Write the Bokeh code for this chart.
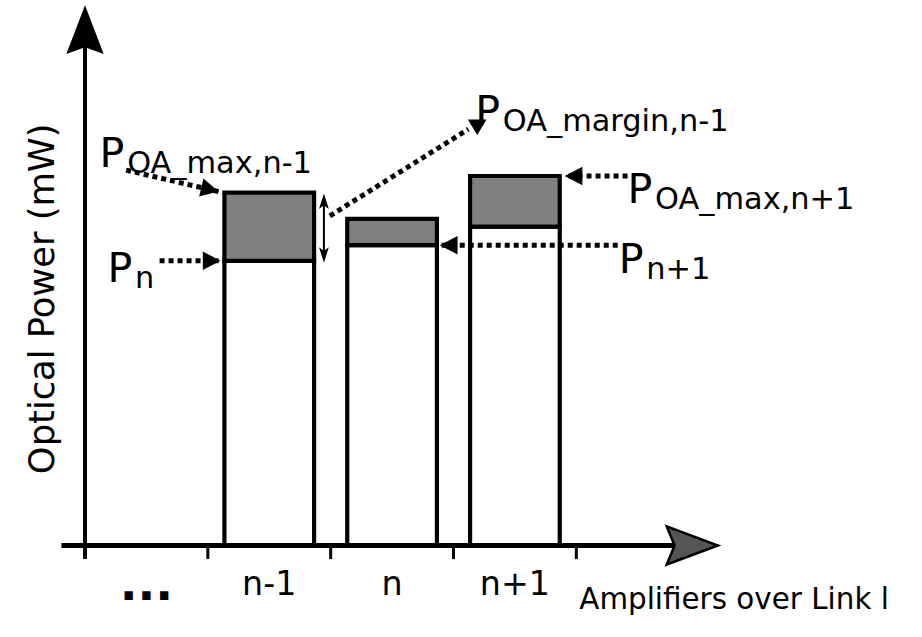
import math
from bokeh.plotting import figure
from bokeh.models import Range1d
from bokeh.core.properties import value
from bokeh.embed import file_html
from bokeh.resources import INLINE

# ---------------- data ----------------
slot_labels = ["n-1", "n", "n+1"]
slot_label_pos = [1.5, 2.5, 3.5]
ellipsis_label = ["..."]
ellipsis_pos = [0.5]
tick_positions = [0, 1, 2, 3, 4]
bar_names = ["n-1", "n", "n+1"]
bar_centers = [1.5, 2.5, 3.5]
power_in = [29.2, 30.8, 32.7]      # P_n (input power to amplifier)
power_max = [36.2, 33.5, 37.9]     # P_OA_max (maximum amplifier power)
bar_width = 0.73

x_title = "Amplifiers over Link l"
y_title = "Optical Power (mW)"

# ---------------- geometry helpers (layout px <-> data) ----------------
XS, YS = 125.0, 10.0      # layout px per slot, layout px per mW
OX, OY = 86.0, 559.0      # layout position of the origin
LW, LH = 922.0, 637.0     # layout extent
W, H = 906, 621           # canvas size
FS = 0.98                 # font scale (canvas / layout)
FONT = value("DejaVu Sans")


def X(px):
    return (px - OX) / XS


def Y(py):
    return (OY - py) / YS


def PX(x):
    return OX + x * XS


def PY(y):
    return OY - y * YS


def fs(size):
    return "%.1fpx" % (size * FS)


p = figure(width=W, height=H,
           x_range=Range1d(X(0), X(LW)), y_range=Range1d(Y(LH), Y(0)),
           x_axis_location=None, y_axis_location=None,
           toolbar_location=None, output_backend="svg",
           min_border=0, outline_line_color=None)
p.grid.visible = False
p.background_fill_color = "white"
p.border_fill_color = "white"


def head(tip, direction, length, width, notch=0.0, fill="black", line_width=0.0):
    tx, ty = tip
    ux, uy = direction
    n = math.hypot(ux, uy)
    ux, uy = ux / n, uy / n
    nx, ny = -uy, ux
    bx, by = tx - length * ux, ty - length * uy
    cx, cy = tx - (length - notch) * ux, ty - (length - notch) * uy
    pts = [(tx, ty), (bx + width / 2 * nx, by + width / 2 * ny), (cx, cy),
           (bx - width / 2 * nx, by - width / 2 * ny)]
    p.patch([X(a) for a, b in pts], [Y(b) for a, b in pts],
            fill_color=fill, line_color="black", line_width=line_width,
            line_join="miter")


def dotted_arrow(start, tip, hl=18, hw=19):
    sx, sy = start
    tx, ty = tip
    p.line([X(sx), X(tx)], [Y(sy), Y(ty)], line_color="black",
           line_width=5, line_dash="5 4")
    head(tip, (tx - sx, ty - sy), hl, hw)


# ---------------- bars ----------------
p.vbar(x=bar_centers, width=bar_width, bottom=0, top=power_in,
       fill_color="white", line_color="black", line_width=4.2, line_join="miter")
p.vbar(x=bar_centers, width=bar_width, bottom=power_in, top=power_max,
       fill_color="#808080", line_color="black", line_width=4.2, line_join="miter")

# ---------------- axes ----------------
tick_bottom = Y(573)
p.segment(x0=tick_positions, y0=[0] * len(tick_positions),
          x1=tick_positions, y1=[tick_bottom] * len(tick_positions),
          line_color="black", line_width=3)
# x axis
x_tip = 730
p.segment(x0=[X(62)], y0=[0], x1=[X(x_tip - 45)], y1=[0], line_color="black", line_width=5)
head((x_tip, OY), (1, 0), 52, 39, notch=8, fill="#555555", line_width=2.5)
# y axis
y_tip = 5
p.segment(x0=[0], y0=[tick_bottom], x1=[0], y1=[Y(y_tip + 42)], line_color="black", line_width=4)
head((OX, y_tip), (0, -1), 50, 38, notch=7, fill="black")

# axis labels
p.text(x=slot_label_pos, y=[Y(598)] * len(slot_label_pos), text=slot_labels,
       text_font=FONT, text_font_size=fs(34), text_align="center",
       text_baseline="alphabetic", text_color="black")
p.text(x=ellipsis_pos, y=[Y(597)], text=ellipsis_label,
       text_font=FONT, text_font_size=fs(48), text_font_style="bold",
       text_align="center", text_baseline="alphabetic", text_color="black")
p.text(x=[X(589)], y=[Y(614)], text=[x_title], text_font=FONT,
       text_font_size=fs(30), text_align="left", text_baseline="alphabetic",
       text_color="black")
p.text(x=[X(42)], y=[Y(306)], text=[y_title], angle=math.pi / 2,
       text_font=FONT, text_font_size=fs(36), text_align="center",
       text_baseline="alphabetic", text_color="black")

# ---------------- annotations ----------------
left_nm1 = PX(bar_centers[0] - bar_width / 2)
right_nm1 = PX(bar_centers[0] + bar_width / 2)
right_n = PX(bar_centers[1] + bar_width / 2)
right_np1 = PX(bar_centers[2] + bar_width / 2)

# P_OA_max,n-1
a1_tip = (left_nm1 - 6, PY(power_max[0]) - 1)
a1_start = (a1_tip[0] - 94, a1_tip[1] - 22)
dotted_arrow(a1_start, a1_tip)
# P_n
a2_tip = (left_nm1 - 4, PY(power_in[0]))
a2_start = (a2_tip[0] - 62, a2_tip[1])
dotted_arrow(a2_start, a2_tip)
# P_OA_max,n+1
a5_tip = (right_np1 + 5, PY(power_max[2]))
a5_start = (a5_tip[0] + 64, a5_tip[1])
dotted_arrow(a5_start, a5_tip)
# P_n+1
a6_tip = (right_n + 3, PY(power_in[1]))
a6_start = (a6_tip[0] + 181, a6_tip[1])
dotted_arrow(a6_start, a6_tip)

# margin double arrow
dx_ = right_nm1 + 10
top_y = PY(power_max[0]) + 1
bot_y = PY(power_in[0]) + 2
p.line([X(dx_), X(dx_)], [Y(top_y + 10), Y(bot_y - 10)], line_color="black", line_width=2)
head((dx_, top_y), (0, -1), 16, 10, notch=4)
head((dx_, bot_y), (0, 1), 16, 10, notch=4)

# link from margin to its label
m_start = (dx_ + 6, PY(power_max[0]) + 24)
m_end = (m_start[0] + 141, m_start[1] - 89)
p.line([X(m_start[0]), X(m_end[0])], [Y(m_start[1]), Y(m_end[1])],
       line_color="black", line_width=5, line_dash="5 4")
m_head_tip = (m_end[0] + 9, m_end[1] + 6)
head(m_head_tip, (0, 1), 16, 19)

# labels: big "P" + subscript
P_pos = [(a1_start[0] - 27, a1_start[1] - 18),
         (a2_start[0] - 53, a2_start[1] + 7),
         (m_head_tip[0] - 2, m_head_tip[1] - 25),
         (a5_start[0] + 0, a5_start[1] + 13),
         (a6_start[0] + 1, a6_start[1] + 14)]
subs = ["OA_max,n-1", "n", "OA_margin,n-1", "OA_max,n+1", "n+1"]
p.text(x=[X(a) for a, b in P_pos], y=[Y(b) for a, b in P_pos], text=["P"] * len(P_pos),
       text_font=FONT, text_font_size=fs(42), text_align="left",
       text_baseline="alphabetic", text_color="black")
p.text(x=[X(a + 28) for a, b in P_pos], y=[Y(b + 10) for a, b in P_pos], text=subs,
       text_font=FONT, text_font_size=fs(31), text_align="left",
       text_baseline="alphabetic", text_color="black")

open("out.html", "w").write(file_html(p, INLINE))
